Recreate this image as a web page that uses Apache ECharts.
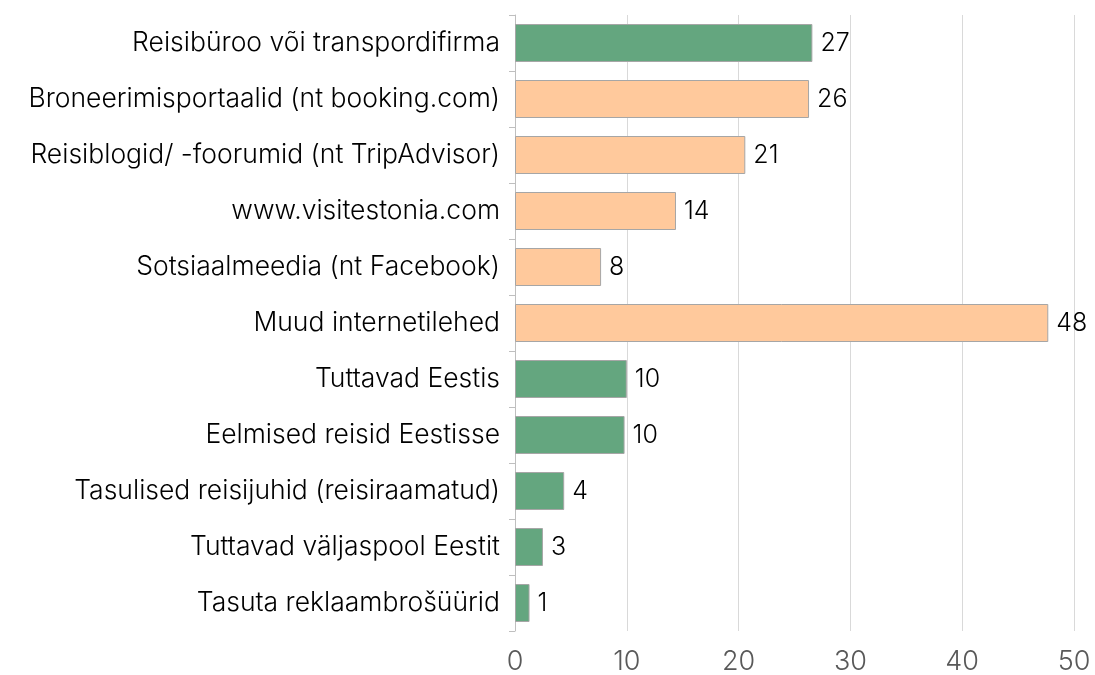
<!DOCTYPE html>
<html>
<head>
<meta charset="utf-8">
<script src="https://cdn.jsdelivr.net/npm/echarts@6/dist/echarts.min.js"></script>
<style>
  html, body { margin: 0; padding: 0; background: #fff; }
  #chart { width: 1095px; height: 675px; }
</style>
</head>
<body>
<div id="chart"></div>
<script>
var categories = [
  'Reisibüroo või transpordifirma',
  'Broneerimisportaalid (nt booking.com)',
  'Reisiblogid/ -foorumid (nt TripAdvisor)',
  'www.visitestonia.com',
  'Sotsiaalmeedia (nt Facebook)',
  'Muud internetilehed',
  'Tuttavad Eestis',
  'Eelmised reisid Eestisse',
  'Tasulised reisijuhid (reisiraamatud)',
  'Tuttavad väljaspool Eestit',
  'Tasuta reklaambrošüürid'
];
var values = [26.6, 26.3, 20.6, 14.4, 7.7, 47.7, 10.0, 9.8, 4.4, 2.5, 1.3];
// online sources are drawn peach, the rest green
var online = [false, true, true, true, true, true, false, false, false, false, false];
var xTicks = [0, 10, 20, 30, 40, 50];

var green = '#64a67f';
var peach = '#ffc99c';
var font = 'Inter, "Open Sans", sans-serif';

var chart = echarts.init(document.getElementById('chart'));

var option = {
  animation: false,
  grid: { left: 515, right: 21, top: 15, bottom: 42, containLabel: false },
  xAxis: {
    type: 'value',
    min: xTicks[0],
    max: xTicks[xTicks.length - 1],
    interval: 10,
    axisLine: { show: false },
    axisTick: { show: false },
    splitLine: { lineStyle: { color: '#d9d9d9', width: 1 } },
    axisLabel: { color: '#595959', fontSize: 27, fontWeight: 300, fontFamily: font, margin: 17 }
  },
  yAxis: {
    type: 'category',
    inverse: true,
    data: categories,
    axisLine: { show: true, lineStyle: { color: '#bfbfbf' } },
    axisTick: { show: true, length: 6, lineStyle: { color: '#bfbfbf' } },
    axisLabel: { color: '#000', fontSize: 26.5, fontWeight: 300, fontFamily: font, margin: 15 }
  },
  series: [{
    type: 'bar',
    barWidth: 38,
    data: values.map(function (v, i) {
      return {
        value: v,
        itemStyle: { color: online[i] ? peach : green, borderColor: '#a6a6a6', borderWidth: 1 }
      };
    }),
    label: {
      show: true,
      position: 'right',
      distance: 8,
      color: '#000',
      fontSize: 25,
      fontWeight: 300,
      fontFamily: font,
      formatter: function (p) { return Math.round(p.value); }
    }
  }]
};

chart.setOption(option);
</script>
</body>
</html>
